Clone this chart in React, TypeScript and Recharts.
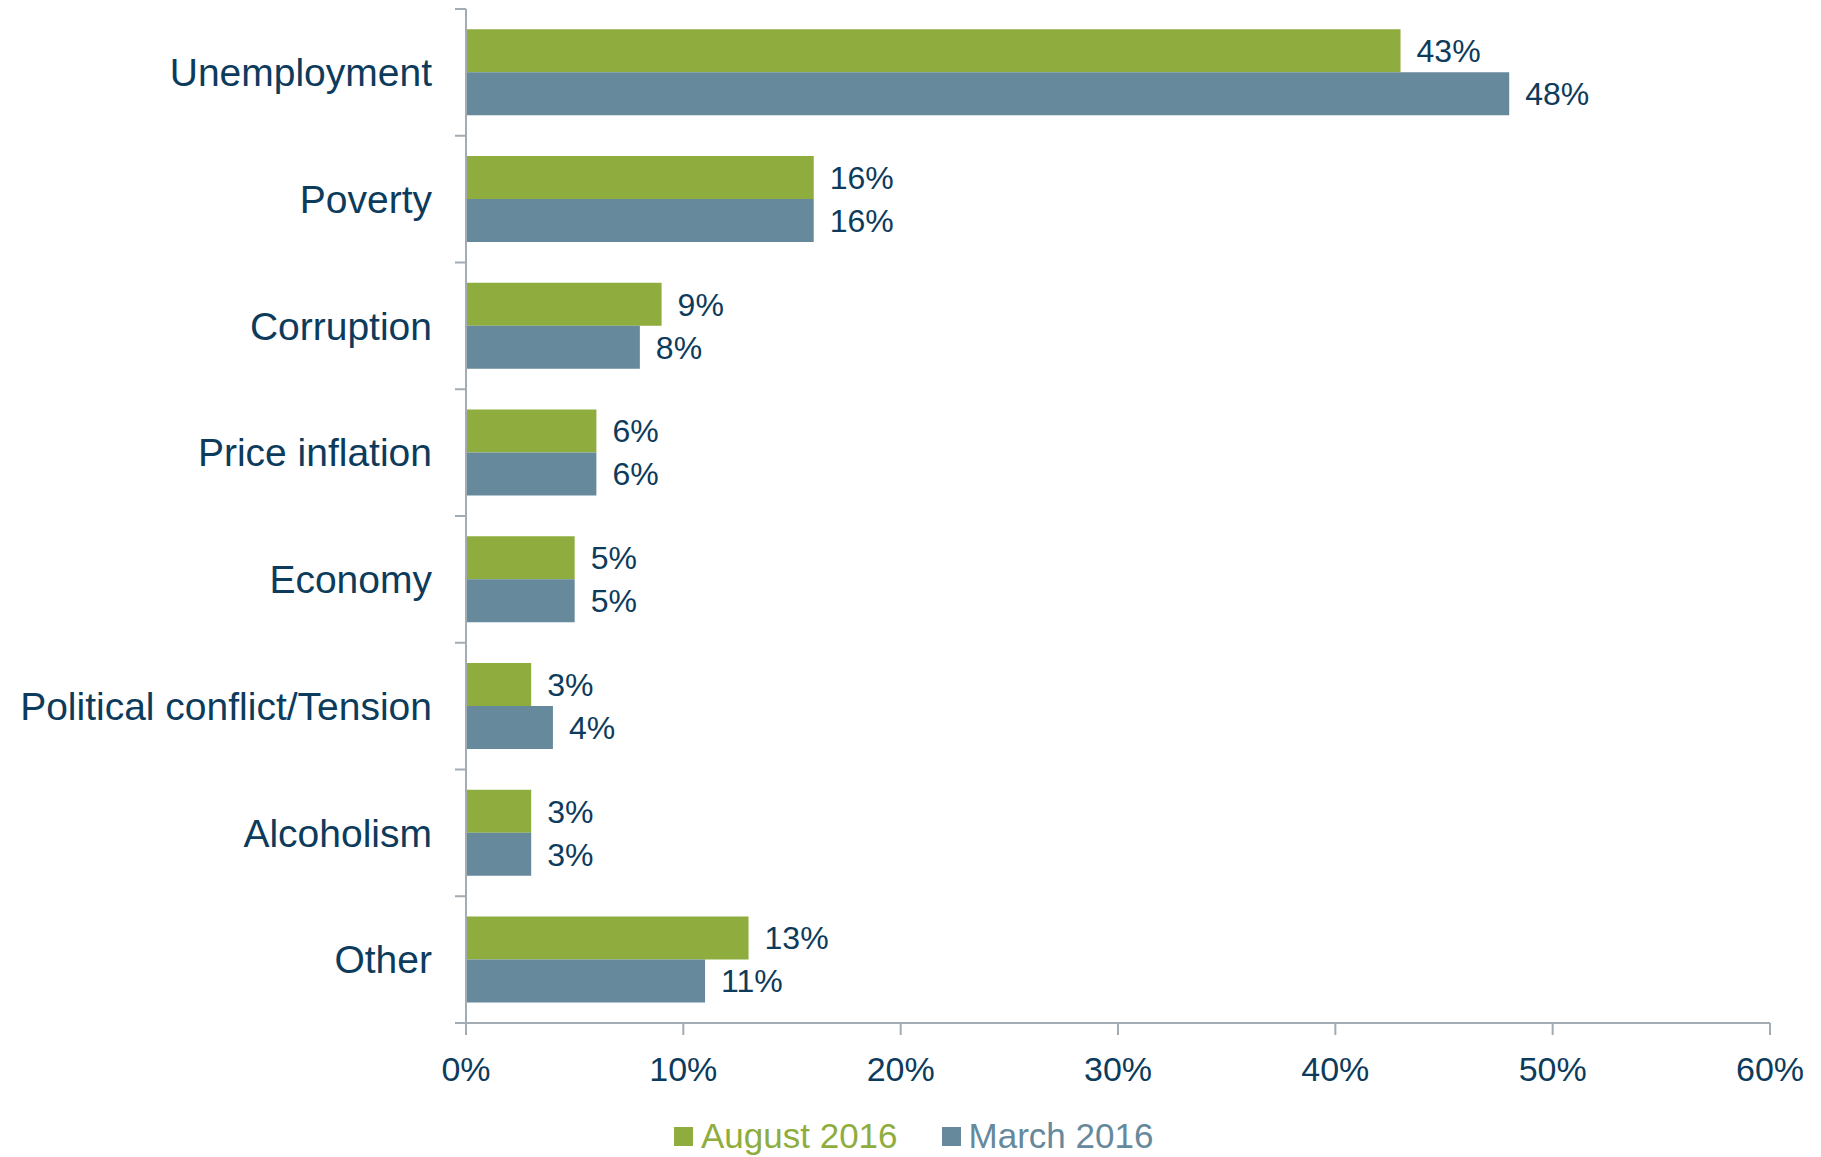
import React from 'react';
import { BarChart, Bar, XAxis, YAxis, LabelList, Legend } from 'recharts';

const categories = [
  'Unemployment',
  'Poverty',
  'Corruption',
  'Price inflation',
  'Economy',
  'Political conflict/Tension',
  'Alcoholism',
  'Other',
];
const august2016 = [43, 16, 9, 6, 5, 3, 3, 13];
const march2016 = [48, 16, 8, 6, 5, 4, 3, 11];
const xTicks = [0, 10, 20, 30, 40, 50, 60];

const seriesNames = ['August 2016', 'March 2016'];
const GREEN = '#8FAD3E';
const BLUE = '#66899B';
const NAVY = '#0D3B5C';
const AXIS = '#A3ABB3';
const FONT = '"Liberation Sans", Arial, sans-serif';
const CAT_TICK_MARGIN = 34;
const BOUNDARY_TICK = 11;

const data = categories.map((c, i) => ({
  name: c,
  aug: august2016[i],
  mar: march2016[i],
}));

const CategoryTick = (props: any) => {
  const { x, y, payload, index } = props;
  const half = payload && typeof payload.offset === 'number' ? payload.offset : 0;
  const x0 = x + CAT_TICK_MARGIN;
  return (
    <g>
      <text
        x={x}
        y={y}
        dy="0.355em"
        textAnchor="end"
        fill={NAVY}
        fontSize={39}
        fontFamily={FONT}
      >
        {payload.value}
      </text>
      <line x1={x0 - BOUNDARY_TICK} x2={x0} y1={y - half} y2={y - half} stroke={AXIS} strokeWidth={2} />
      {index === categories.length - 1 && (
        <line x1={x0 - BOUNDARY_TICK} x2={x0} y1={y + half} y2={y + half} stroke={AXIS} strokeWidth={2} />
      )}
    </g>
  );
};

const LegendContent = () => (
  <div style={{ display: 'flex', alignItems: 'center', height: 44, fontFamily: FONT, fontSize: 35 }}>
    <div style={{ width: 19, height: 19, background: GREEN, marginRight: 8 }} />
    <span style={{ color: GREEN, marginRight: 44, lineHeight: '44px' }}>{seriesNames[0]}</span>
    <div style={{ width: 19, height: 19, background: BLUE, marginRight: 8 }} />
    <span style={{ color: BLUE, lineHeight: '44px' }}>{seriesNames[1]}</span>
  </div>
);

export default function App() {
  return (
    <div style={{ position: 'absolute', left: 0, top: 0, fontFamily: FONT }}>
      <BarChart
        width={1821}
        height={1157}
        data={data}
        layout="vertical"
        margin={{ top: 9, right: 51, bottom: 0, left: 0 }}
        barCategoryGap="16%"
        barGap={0}
      >
        <XAxis
          type="number"
          domain={[0, 60]}
          ticks={xTicks}
          tickFormatter={(v) => `${v}%`}
          height={90}
          tickSize={12}
          tickMargin={22}
          axisLine={{ stroke: AXIS, strokeWidth: 2 }}
          tickLine={{ stroke: AXIS, strokeWidth: 2 }}
          tick={{ fill: NAVY, fontSize: 34, fontFamily: FONT }}
          interval={0}
        />
        <YAxis
          type="category"
          dataKey="name"
          width={466}
          tickSize={0}
          tickMargin={CAT_TICK_MARGIN}
          axisLine={{ stroke: AXIS, strokeWidth: 2 }}
          tickLine={false}
          tick={<CategoryTick />}
          interval={0}
        />
        <Legend
          verticalAlign="bottom"
          content={<LegendContent />}
          wrapperStyle={{ left: 674, top: 1114, width: 600, height: 44 }}
        />
        <Bar dataKey="aug" name={seriesNames[0]} fill={GREEN} isAnimationActive={false}>
          <LabelList
            dataKey="aug"
            position="right"
            offset={16}
            formatter={(v: number) => `${v}%`}
            style={{ fill: NAVY, fontSize: 32, fontFamily: FONT }}
          />
        </Bar>
        <Bar dataKey="mar" name={seriesNames[1]} fill={BLUE} isAnimationActive={false}>
          <LabelList
            dataKey="mar"
            position="right"
            offset={16}
            formatter={(v: number) => `${v}%`}
            style={{ fill: NAVY, fontSize: 32, fontFamily: FONT }}
          />
        </Bar>
      </BarChart>
    </div>
  );
}
